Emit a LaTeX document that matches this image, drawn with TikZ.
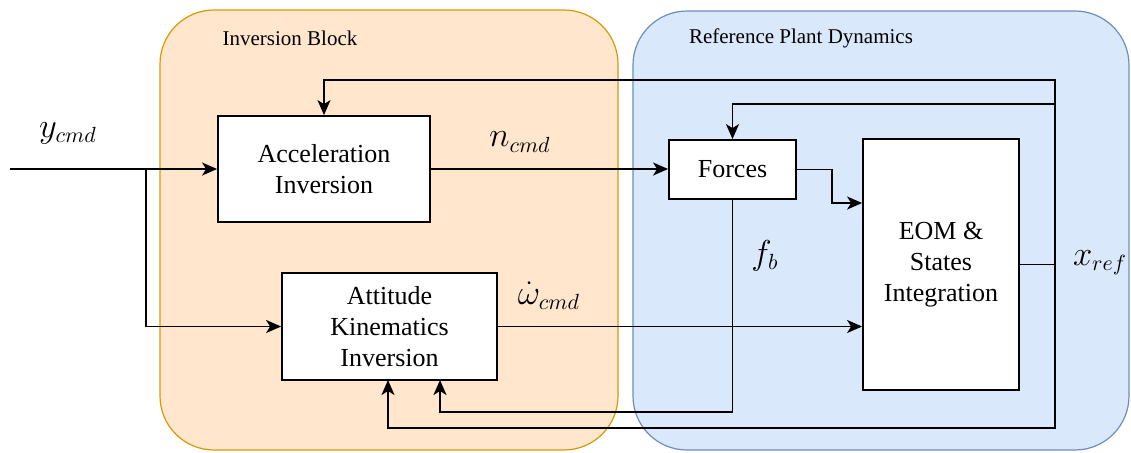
\documentclass[tikz,border=0pt]{standalone}
\usepackage{fontspec}
\setmainfont{Liberation Serif}
\newfontfamily\boxfont{Liberation Serif}
\usetikzlibrary{arrows.meta,calc}
\definecolor{orfill}{HTML}{FFE6CC}
\definecolor{ordraw}{HTML}{D79B00}
\definecolor{blfill}{HTML}{DAE8FC}
\definecolor{bldraw}{HTML}{6C8EBF}
\begin{document}
\begin{tikzpicture}[x=0.5pt,y=-0.5pt,
  container/.style={rounded corners=27pt, line width=0.6pt},
  blockbox/.style={draw, fill=white, line width=0.9pt, align=center, inner sep=0pt,
    font=\boxfont\fontsize{13}{15.5}\selectfont},
  header/.style={font=\boxfont\fontsize{10.5}{12}\selectfont},
  mathlbl/.style={font=\fontsize{16}{19}\selectfont},
  wire/.style={line width=0.9pt},
  arr/.style={wire, -{Stealth[length=7.5pt,width=6.5pt,inset=2pt]}}]
\useasboundingbox (0,0) rectangle (1131,452);
% containers
\draw[container, fill=orfill, draw=ordraw] (160,10) rectangle (618,450);
\draw[container, fill=blfill, draw=bldraw] (633,11) rectangle (1129,450);
\node[header] (hinv) at (290,38) {Inversion Block};
\node[header] (href) at (801,38) {Reference Plant Dynamics};
% blocks
\node[blockbox, minimum width=106pt, minimum height=53pt] (acc) at (324,169) {Acceleration\\Inversion};
\node[blockbox, minimum width=107.5pt, minimum height=53.5pt] (att) at (389.5,326.5) {Attitude\\Kinematics\\Inversion};
\node[blockbox, minimum width=63.5pt, minimum height=29.5pt] (forces) at (732.5,169.5) {Forces};
\node[blockbox, minimum width=78pt, minimum height=125.5pt] (eom) at (941,264.5) {EOM \&\\States\\Integration};
% labels
\node[mathlbl] (lycmd) at (68,133) {$y_{cmd}$};
\node[mathlbl] (lncmd) at (520,142) {$n_{cmd}$};
\node[mathlbl] (lwcmd) at (549,296) {$\dot{\omega}_{cmd}$};
\node[mathlbl] (lfb) at (765,256) {$f_b$};
\node[mathlbl] (lxref) at (1100,263) {$x_{ref}$};
% coordinates
\coordinate (in) at (10,169);
\coordinate (br) at (146,169);
\coordinate (fk) at (832,169.5);
\coordinate (fk2) at (832,203);
\coordinate (j) at (1055,264.5);
\coordinate (jt) at (1055,80);
\coordinate (jm) at (1055,104);
\coordinate (jb) at (1055,428);
\coordinate (fbc) at (732.5,412);
\coordinate (fbend) at (440,412);
\coordinate (attb2) at (440,380);
\coordinate (attb1) at (388,380);
% connectors
\draw[arr] (in) -- (acc.west);
\draw[arr] (br) |- (att.west);
\draw[arr] (acc.east) -- (forces.west |- acc.east);
\draw[arr] (forces.east) -- (fk) -- (fk2) -- (eom.west |- fk2);
\draw[arr] (att.east) -- (eom.west |- att.east);
\draw[wire] (eom.east) -- (j);
\draw[arr] (j) -- (jt) -| (acc.north);
\draw[arr] (jm) -| (forces.north);
\draw[arr] (j) -- (jb) -| (attb1);
\draw[arr] (forces.south) -- (fbc) -- (fbend) -- (attb2);
\end{tikzpicture}
\end{document}
